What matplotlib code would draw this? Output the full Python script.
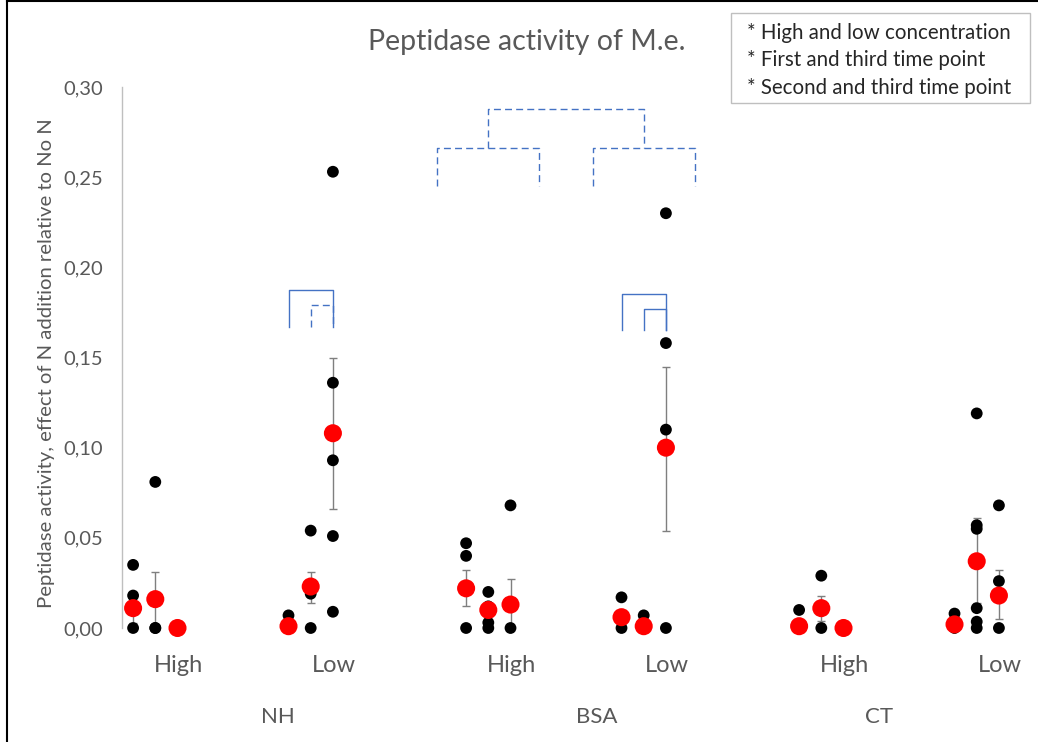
import matplotlib
matplotlib.use('Agg')

import matplotlib.pyplot as plt
from matplotlib.lines import Line2D
from matplotlib.patches import Rectangle

plt.rcParams['font.family'] = ['Lato', 'DejaVu Sans']

# --- data -------------------------------------------------------------
groups = ['NH', 'BSA', 'CT']
concentrations = ['High', 'Low']

# single measurements per (group, concentration, time point)
points = {
    ('NH', 'High'): [[0.035, 0.018, 0.0], [0.081, 0.0, 0.0], [0.0, 0.0, 0.0]],
    ('NH', 'Low'): [[0.007, 0.0, 0.0], [0.054, 0.019, 0.0], [0.253, 0.136, 0.093, 0.051, 0.009]],
    ('BSA', 'High'): [[0.047, 0.040, 0.0], [0.020, 0.012, 0.003, 0.0], [0.068, 0.0]],
    ('BSA', 'Low'): [[0.017, 0.0], [0.007, 0.0], [0.230, 0.158, 0.110, 0.0]],
    ('CT', 'High'): [[0.010, 0.0], [0.029, 0.0], [0.0]],
    ('CT', 'Low'): [[0.008, 0.0], [0.119, 0.057, 0.055, 0.011, 0.0035, 0.0], [0.068, 0.026, 0.0]],
}
# mean per time point
means = {
    ('NH', 'High'): [0.011, 0.016, 0.0],
    ('NH', 'Low'): [0.001, 0.023, 0.108],
    ('BSA', 'High'): [0.022, 0.010, 0.013],
    ('BSA', 'Low'): [0.006, 0.001, 0.100],
    ('CT', 'High'): [0.001, 0.011, 0.0],
    ('CT', 'Low'): [0.002, 0.037, 0.018],
}
# error bar (lower, upper) per time point, None = no bar
errors = {
    ('NH', 'High'): [(0.003, 0.019), (0.0, 0.031), None],
    ('NH', 'Low'): [None, (0.014, 0.031), (0.066, 0.150)],
    ('BSA', 'High'): [(0.012, 0.032), None, (0.0, 0.027)],
    ('BSA', 'Low'): [None, None, (0.054, 0.145)],
    ('CT', 'High'): [None, (0.004, 0.018), None],
    ('CT', 'Low'): [None, (0.014, 0.061), (0.005, 0.032)],
}

legend_lines = ['* High and low concentration',
                '* First and third time point',
                '* Second and third time point']

yticks = [0.0, 0.05, 0.10, 0.15, 0.20, 0.25, 0.30]

# layout of the category axis (in time-point steps)
GROUP_STEP = 15
CONC_STEP = 7
group_label_x = [6.5, 20.9, 33.6]

grey = '#595959'
blue = '#4472C4'

W, H = 1038, 742
fig = plt.figure(figsize=(W / 100, H / 100), dpi=100)
ax = fig.add_axes([122 / W, (H - 628) / H, (1030 - 122) / W, (628 - 87) / H])


def base_x(g, c):
    return groups.index(g) * GROUP_STEP + concentrations.index(c) * CONC_STEP


for (g, c), pts in points.items():
    x0 = base_x(g, c)
    for t in range(3):
        x = x0 + t
        err = errors[(g, c)][t]
        m = means[(g, c)][t]
        if err is not None:
            ax.errorbar([x], [m], yerr=[[m - err[0]], [err[1] - m]], fmt='none',
                        ecolor='#7f7f7f', elinewidth=1.0, capsize=3, capthick=1.0, zorder=1)
        ax.scatter([x] * len(pts[t]), pts[t], s=8.5 ** 2, color='black',
                   edgecolors='none', zorder=2, clip_on=False)
        ax.scatter([x], [m], s=13 ** 2, color='#ff0000', edgecolors='none',
                   zorder=3, clip_on=False)


def bracket(x1, x2, ytop, ybot, dashed=False):
    ln, = ax.plot([x1, x1, x2, x2], [ybot, ytop, ytop, ybot], color=blue, lw=1.0, zorder=1)
    if dashed:
        ln.set_dashes((5, 3))


# significance brackets
x0 = base_x('NH', 'Low')
bracket(x0, x0 + 2, 0.1875, 0.167)
bracket(x0 + 1, x0 + 2, 0.179, 0.167, dashed=True)
x0 = base_x('BSA', 'Low')
bracket(x0, x0 + 2, 0.185, 0.165)
bracket(x0 + 1, x0 + 2, 0.177, 0.165)
# dendrogram over BSA (dashed)
hi_c = base_x('BSA', 'High') + 1
lo_c = base_x('BSA', 'Low') + 1
bracket(hi_c - 2.3, hi_c + 2.3, 0.266, 0.245, dashed=True)
bracket(lo_c - 2.3, lo_c + 2.3, 0.266, 0.245, dashed=True)
bracket(hi_c, lo_c, 0.288, 0.266, dashed=True)

ax.set_xlim(-0.5, 40.4)
ax.set_ylim(0, 0.30)
ax.set_yticks(yticks)
ax.set_yticklabels([f'{v:.2f}'.replace('.', ',') for v in yticks])
ax.tick_params(axis='y', length=0, pad=13.5, labelsize=14.5, labelcolor=grey)
ax.set_xticks([])
for s in ['top', 'right', 'bottom']:
    ax.spines[s].set_visible(False)
ax.spines['left'].set_color('#bfbfbf')
ax.spines['left'].set_linewidth(1.0)

ax.set_ylabel('Peptidase activity, effect of N addition relative to No N',
              fontsize=14.6, color=grey)
ax.yaxis.set_label_coords(-67 / 908, 0.49)

# category labels
tr = ax.get_xaxis_transform()
for g in groups:
    for c in concentrations:
        ax.text(base_x(g, c) + 2.05, -37 / 541, c, transform=tr, ha='center',
                va='center', fontsize=17, color=grey)
for g, gx in zip(groups, group_label_x):
    ax.text(gx, -89 / 541, g, transform=tr, ha='center', va='center',
            fontsize=16, color=grey)

# title
fig.text(527 / W, 1 - 42 / H, 'Peptidase activity of M.e.', ha='center',
         va='center', fontsize=20.5, color=grey)

# legend box
fig.patches.append(Rectangle((731 / W, 1 - 103 / H), (1030 - 731) / W, 90 / H,
                             transform=fig.transFigure, facecolor='white',
                             edgecolor='#bfbfbf', lw=1.0))
for i, line in enumerate(legend_lines):
    fig.text(747 / W, 1 - (33 + 27.5 * i) / H, line, ha='left', va='center',
             fontsize=14.8, color='#262626')

# frame edges visible in the crop
fig.add_artist(Line2D([7 / W, 7 / W], [0, 1 - 1 / H], transform=fig.transFigure,
                      color='black', lw=1.5))
fig.add_artist(Line2D([7 / W, 1], [1 - 1 / H, 1 - 1 / H], transform=fig.transFigure,
                      color='black', lw=1.5))

fig.savefig('out.png', dpi=100, facecolor='white')
